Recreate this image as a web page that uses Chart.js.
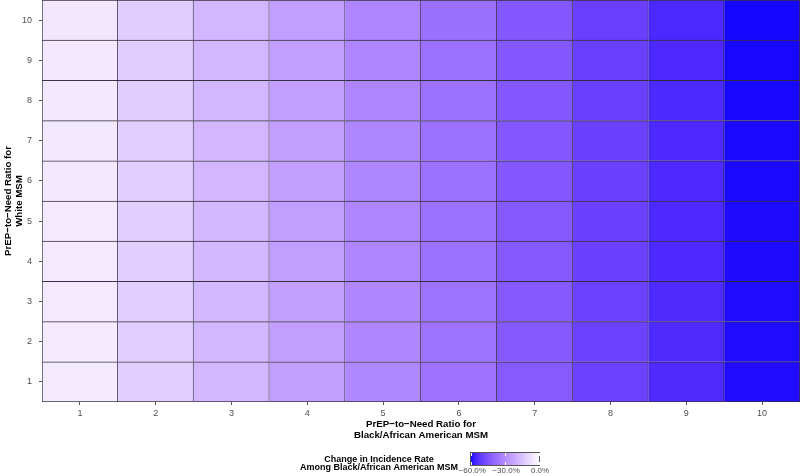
<!DOCTYPE html>
<html>
<head>
<meta charset="utf-8">
<script src="https://cdn.jsdelivr.net/npm/chart.js@4.4.0/dist/chart.umd.min.js"></script>
<style>
  html, body { margin: 0; padding: 0; background: #fff; }
  #wrap { width: 800px; height: 476px; position: relative; }
</style>
</head>
<body>
<div id="wrap"><canvas id="heatChart"></canvas></div>
<script>
// PrEP-to-Need ratio for Black/African American MSM (x) and White MSM (y)
const colLabels = ['1', '2', '3', '4', '5', '6', '7', '8', '9', '10'];
const rowLabels = ['1', '2', '3', '4', '5', '6', '7', '8', '9', '10'];

// change in incidence rate (%), one row per White MSM ratio, bottom to top
const row1  = [-5.2, -12.7, -19.0, -25.5, -32.2, -37.8, -44.4, -50.6, -55.9, -60.8];
const row2  = [-5.3, -12.8, -19.1, -25.6, -32.3, -37.9, -44.5, -50.7, -56.0, -60.9];
const row3  = [-5.4, -12.8, -19.1, -25.6, -32.3, -37.9, -44.5, -50.7, -56.0, -60.9];
const row4  = [-5.5, -12.9, -19.2, -25.7, -32.4, -38.0, -44.6, -50.8, -56.1, -61.0];
const row5  = [-5.6, -12.9, -19.2, -25.7, -32.4, -38.0, -44.6, -50.8, -56.1, -61.0];
const row6  = [-5.7, -13.0, -19.3, -25.8, -32.5, -38.1, -44.7, -50.9, -56.2, -61.1];
const row7  = [-5.8, -13.0, -19.3, -25.8, -32.5, -38.1, -44.7, -50.9, -56.2, -61.1];
const row8  = [-5.9, -13.1, -19.4, -25.9, -32.6, -38.2, -44.8, -51.0, -56.3, -61.2];
const row9  = [-6.0, -13.1, -19.4, -25.9, -32.6, -38.2, -44.8, -51.0, -56.4, -61.3];
const row10 = [-6.2, -13.2, -19.5, -26.0, -32.7, -38.3, -44.9, -51.1, -56.5, -61.4];
const changeRows = [row1, row2, row3, row4, row5, row6, row7, row8, row9, row10];

const colorLimits = [-62, 0];           // colour scale low / high
const legendTicks = [-60, -30, 0];

// --- Lab colour ramp, blue (low) to white (high), like ggplot's gradient
function toLin(c) { c /= 255; return c <= 0.04045 ? c / 12.92 : Math.pow((c + 0.055) / 1.055, 2.4); }
function toSrgb(v) {
  v = v <= 0.0031308 ? 12.92 * v : 1.055 * Math.pow(v, 1 / 2.4) - 0.055;
  return Math.round(Math.max(0, Math.min(1, v)) * 255);
}
function rgbToLab(r, g, b) {
  const R = toLin(r), G = toLin(g), B = toLin(b);
  const X = (0.4124 * R + 0.3576 * G + 0.1805 * B) / 0.95047;
  const Y = 0.2126 * R + 0.7152 * G + 0.0722 * B;
  const Z = (0.0193 * R + 0.1192 * G + 0.9505 * B) / 1.08883;
  const f = t => t > 0.008856 ? Math.cbrt(t) : 7.787 * t + 16 / 116;
  const fx = f(X), fy = f(Y), fz = f(Z);
  return [116 * fy - 16, 500 * (fx - fy), 200 * (fy - fz)];
}
function labToRgb(L, a, b) {
  const fy = (L + 16) / 116, fx = fy + a / 500, fz = fy - b / 200;
  const inv = t => t * t * t > 0.008856 ? t * t * t : (t - 16 / 116) / 7.787;
  const X = 0.95047 * inv(fx), Y = inv(fy), Z = 1.08883 * inv(fz);
  return [
    toSrgb(3.2406 * X - 1.5372 * Y - 0.4986 * Z),
    toSrgb(-0.9689 * X + 1.8758 * Y + 0.0415 * Z),
    toSrgb(0.0557 * X - 0.2040 * Y + 1.0570 * Z)
  ];
}
const labLow = rgbToLab(0, 0, 255);
const labHigh = rgbToLab(255, 255, 255);
function fillFor(v) {
  let t = (v - colorLimits[0]) / (colorLimits[1] - colorLimits[0]);
  t = Math.max(0, Math.min(1, t));
  const c = labToRgb(
    labLow[0] + (labHigh[0] - labLow[0]) * t,
    labLow[1] + (labHigh[1] - labLow[1]) * t,
    labLow[2] + (labHigh[2] - labLow[2]) * t
  );
  return 'rgb(' + c.join(',') + ')';
}

Chart.defaults.font.family = 'Arial, "Liberation Sans", Helvetica, sans-serif';

const cellLine = 'rgba(35, 30, 45, 0.9)';

const datasets = rowLabels.map((r, i) => ({
  label: 'White MSM ratio ' + r,
  data: colLabels.map(() => 1),
  backgroundColor: changeRows[i].map(fillFor),
  borderColor: cellLine,
  borderWidth: ctx => ({
    top: 1,
    right: 1,
    left: ctx.dataIndex === 0 ? 1 : 0,
    bottom: ctx.datasetIndex === 0 ? 1 : 0
  }),
  borderSkipped: false,
  categoryPercentage: 1,
  barPercentage: 1
}));

// colour bar legend under the plot
const colorbarLegend = {
  id: 'colorbarLegend',
  afterDraw(chart) {
    const ctx = chart.ctx;
    const x0 = 470, x1 = 540, y0 = 452, y1 = 466;
    ctx.save();
    const grad = ctx.createLinearGradient(x0, 0, x1, 0);
    for (let k = 0; k <= 20; k++) {
      const v = colorLimits[0] + (colorLimits[1] - colorLimits[0]) * k / 20;
      grad.addColorStop(k / 20, fillFor(v));
    }
    ctx.fillStyle = grad;
    ctx.fillRect(x0, y0, x1 - x0, y1 - y0);
    ctx.strokeStyle = '#555';
    ctx.lineWidth = 1;
    ctx.strokeRect(x0 + 0.5, y0 + 0.5, x1 - x0 - 1, y1 - y0 - 1);

    ctx.font = '8px Arial, "Liberation Sans", sans-serif';
    ctx.fillStyle = '#4d4d4d';
    ctx.textAlign = 'center';
    ctx.textBaseline = 'top';
    legendTicks.forEach(t => {
      const px = x0 + (x1 - x0) * (t - colorLimits[0]) / (colorLimits[1] - colorLimits[0]);
      const sx = Math.round(px) - 0.5;
      ctx.strokeStyle = '#fff';
      ctx.beginPath();
      ctx.moveTo(sx, y0 + 1); ctx.lineTo(sx, y0 + 4);
      ctx.moveTo(sx, y1 - 4); ctx.lineTo(sx, y1 - 1);
      ctx.stroke();
      ctx.fillText((t < 0 ? '\u2212' : '') + Math.abs(t).toFixed(1) + '%', px, y1 + 1);
    });

    ctx.font = 'bold 9px Arial, "Liberation Sans", sans-serif';
    ctx.fillStyle = '#000';
    ctx.textBaseline = 'middle';
    ctx.fillText('Change in Incidence Rate', 379, 460);
    ctx.fillText('Among Black/African American MSM', 379, 468);
    ctx.restore();
  }
};

const ctx = document.getElementById('heatChart').getContext('2d');
const heatChart = new Chart(ctx, {
  type: 'bar',
  data: { labels: colLabels, datasets: datasets },
  options: {
    responsive: true,
    maintainAspectRatio: false,
    animation: false,
    layout: { padding: { top: 0, right: 0, bottom: 34, left: 0 } },
    plugins: { legend: { display: false }, tooltip: { enabled: false } },
    scales: {
      x: {
        stacked: true,
        offset: true,
        grid: { drawOnChartArea: false, offset: false, tickLength: 3, color: '#555' },
        border: { display: false },
        ticks: { font: { size: 9 }, color: '#4d4d4d', padding: 3, maxRotation: 0 },
        title: {
          display: true,
          text: ['PrEP\u2212to\u2212Need Ratio for', 'Black/African American MSM'],
          font: { size: 9.7, weight: 'bold', lineHeight: 1.15 },
          color: '#000',
          padding: { top: 0, bottom: 1 }
        },
        afterFit: s => { s.height = 40; s.paddingLeft = 0; s.paddingRight = 0; }
      },
      y: {
        type: 'linear',
        stacked: true,
        min: 0,
        max: 10,
        afterBuildTicks: s => { s.ticks = rowLabels.map((l, i) => ({ value: i + 0.5 })); },
        grid: { drawOnChartArea: false, tickLength: 3, color: '#555' },
        border: { display: false },
        ticks: {
          font: { size: 9 }, color: '#4d4d4d', padding: 7,
          callback: (v, i) => rowLabels[i]
        },
        title: {
          display: true,
          text: ['PrEP\u2212to\u2212Need Ratio for', 'White MSM'],
          font: { size: 9.7, weight: 'bold', lineHeight: 1.15 },
          color: '#000',
          padding: { top: 2.5, bottom: 0 }
        },
        afterFit: s => { s.width = 42; s.paddingTop = 0; s.paddingBottom = 0; }
      }
    }
  },
  plugins: [colorbarLegend]
});
</script>
</body>
</html>
